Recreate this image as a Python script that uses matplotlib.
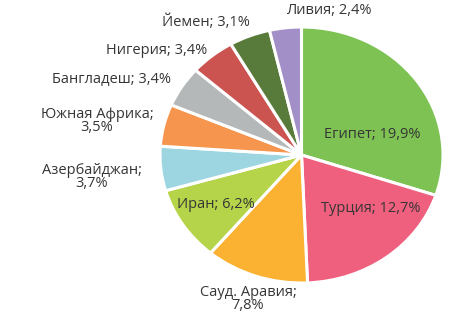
import matplotlib
matplotlib.use("Agg")
import matplotlib.pyplot as plt

countries = ["Египет", "Турция", "Сауд. Аравия", "Иран", "Азербайджан",
             "Южная Африка", "Бангладеш", "Нигерия", "Йемен", "Ливия"]
shares = [19.9, 12.7, 7.8, 6.2, 3.7, 3.5, 3.4, 3.4, 3.1, 2.4]
colors = ["#7dc253", "#ef5f7e", "#fbb232", "#b5d44a", "#9dd6e0",
          "#f6964e", "#b5b8b9", "#cb5350", "#587a3a", "#a28fc7"]

# label placement in pixels (x, y from top), and whether to break the line
label_pos = [(372, 135), (371, 209), (248, 299), (216, 204), (92, 177),
             (97, 121), (112, 80), (157, 50), (206, 22), (329, 10)]
two_line = [False, False, True, False, True, True, False, False, False, False]

W, H = 454, 326
cx, cy, rx, ry = 301.5, 155, 141.5, 128

plt.rcParams['font.family'] = ['Open Sans', 'DejaVu Sans']

fig = plt.figure(figsize=(W / 100, H / 100), dpi=100)
ax = fig.add_axes([0, 0, 1, 1])
ax.pie(shares, colors=colors, startangle=90, counterclock=False,
       wedgeprops=dict(edgecolor="white", linewidth=2.2))
ax.set_aspect("auto")
ax.set_xlim(-cx / rx, (W - cx) / rx)
ax.set_ylim((cy - H) / ry, cy / ry)


def to_data(px, py):
    return (px - cx) / rx, (cy - py) / ry


for name, val, pos, br in zip(countries, shares, label_pos, two_line):
    sep = "\n" if br else " "
    pct = f"{val:.1f}%".replace(".", ",")
    x, y = to_data(*pos)
    ax.text(x, y, f"{name};{sep}{pct}", ha="center", va="center", fontsize=10.5,
            color="#363636", linespacing=0.9, multialignment="center")

fig.savefig("out.png", dpi=100)
